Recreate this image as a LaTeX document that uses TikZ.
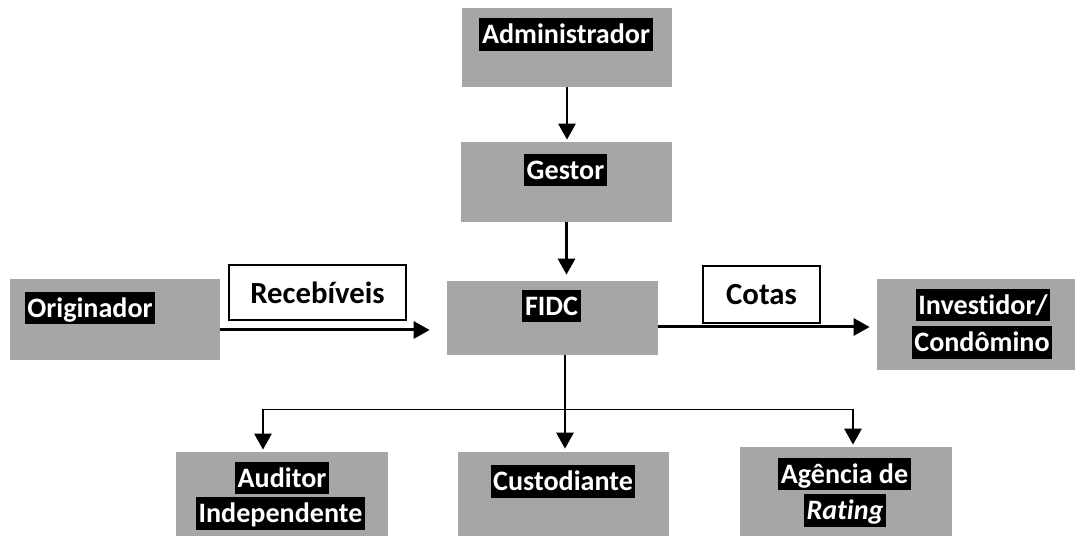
\documentclass[tikz,border=0pt]{standalone}
\usepackage{fontspec}
\setmainfont[Ligatures=NoCommon]{Carlito}
\usetikzlibrary{arrows.meta}
\definecolor{boxgray}{HTML}{A6A6A6}

\begin{document}
\begin{tikzpicture}[x=0.02cm, y=-0.02cm,
  box/.style={fill=boxgray, draw=none, inner sep=0pt},
  hl/.style={fill=black, text=white, inner xsep=1.5pt, inner ysep=0pt, text height=14.5pt, text depth=4pt},
  lbl/.style={draw=black, line width=1.1pt, fill=white, inner sep=0pt, font=\bfseries\fontsize{17.5}{20}\selectfont},
  arr/.style={line width=1.7pt, -{Triangle[width=0.34cm, length=0.32cm]}},
  every node/.style={font=\bfseries\fontsize{16}{19}\selectfont}]
\useasboundingbox (0,0) rectangle (1080,536);

% gray boxes
\node[box, minimum width=4.2cm, minimum height=1.58cm] (adm) at (567,47.5) {};
\node[box, minimum width=4.22cm, minimum height=1.6cm] (ges) at (566.5,182) {};
\node[box, minimum width=4.22cm, minimum height=1.48cm] (fidc) at (552.5,318) {};
\node[box, minimum width=4.2cm, minimum height=1.62cm] (orig) at (115,319.5) {};
\node[box, minimum width=3.96cm, minimum height=1.82cm] (inv) at (976,324.5) {};
\node[box, minimum width=4.24cm, minimum height=1.68cm] (aud) at (282,494) {};
\node[box, minimum width=4.22cm, minimum height=1.68cm] (cus) at (563.5,494) {};
\node[box, minimum width=4.24cm, minimum height=1.78cm] (agr) at (846,491.5) {};

% highlighted texts
\node[hl] (admtxt) at (566,34.5) {Administrador};
\node[hl] (gestxt) at (565.5,170) {Gestor};
\node[hl] (fidctxt) at (551.5,306) {FIDC};
\node[hl] (origtxt) at (90,308) {Originador};
\node[hl] (invtxta) at (983,305) {Investidor/};
\node[hl] (invtxtb) at (982,342.5) {Condômino};
\node[hl] (audtxta) at (282,478) {Auditor};
\node[hl] (audtxtb) at (280.5,513.5) {Independente};
\node[hl] (custxt) at (563,481.5) {Custodiante};
\node[hl] (agrtxta) at (844.5,474) {Agência de};
\node[hl] (agrtxtb) at (845,510.5) {\textit{Rating}};

% flow labels
\node[lbl, minimum width=3.54cm, minimum height=1.1cm] (rec) at (317.5,292.5) {Recebíveis};
\node[lbl, minimum width=2.34cm, minimum height=1.14cm] (cot) at (761.5,294.5) {Cotas};

% connectors
\draw[arr, shorten >=0.04cm] (adm.south) -- (adm.south |- ges.north);
\draw[arr, shorten >=0.12cm] (ges.south) -- (ges.south |- fidc.north);
\coordinate (recin) at ([yshift=-0.21cm]orig.east);
\draw[arr, shorten >=0.34cm] (recin) -- (recin -| fidc.west);
\coordinate (cotout) at ([yshift=-0.18cm]fidc.east);
\draw[arr, shorten >=0.14cm] (cotout) -- (cotout -| inv.west);

\coordinate (hub) at (565,409.5);
\coordinate (lft) at (263,409.5);
\coordinate (rgt) at (853,409.5);
\draw[line width=0.8pt] (hub |- fidc.south) -- (hub);
\draw[line width=1.1pt] (lft) -- (rgt);
\draw[arr, shorten >=0.04cm] (lft) -- (lft |- aud.north);
\draw[arr, shorten >=0.06cm] (hub) -- (hub |- cus.north);
\draw[arr, shorten >=0.04cm] (rgt) -- (rgt |- agr.north);
\end{tikzpicture}
\end{document}
